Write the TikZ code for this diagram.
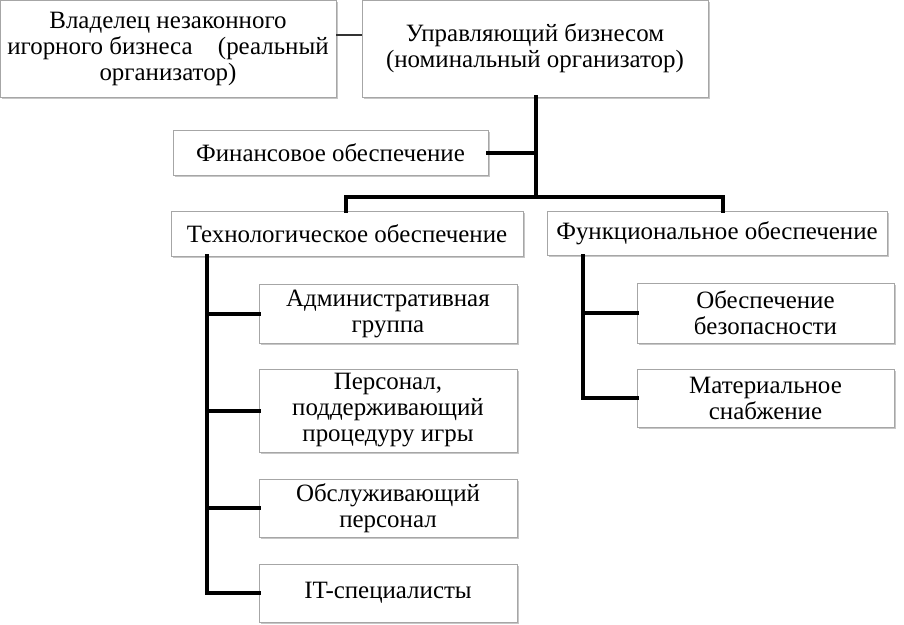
\documentclass[tikz,border=0pt]{standalone}
\usepackage{fontspec}
\setmainfont{Liberation Serif}
\usetikzlibrary{shadows}
\begin{document}
\begin{tikzpicture}[x=0.75pt,y=-0.75pt,
  box/.style 2 args={draw=black!35, line width=0.6pt, fill=white,
    drop shadow={shadow xshift=1.3pt, shadow yshift=-1.3pt, fill=black, opacity=0.22},
    minimum width=#1*0.75pt, minimum height=#2*0.75pt, inner sep=0pt,
    align=center, font=\fontsize{18.7pt}{19.5pt}\selectfont},
  thick line/.style={line width=3pt, line cap=rect},
  thin line/.style={line width=0.8pt, draw=black!80}]
\useasboundingbox (0,0) rectangle (904,625);
\node[box={336}{97}] (own) at (168,48.5) {Владелец незаконного\\\makebox[241pt][s]{игорного бизнеса\hfill(реальный}\\организатор)};
\node[box={346}{97}] (man) at (535,48.5) {Управляющий бизнесом\\(номинальный организатор)};
\node[box={315}{45}] (fin) at (330.5,152.5) {Финансовое обеспечение};
\node[box={352}{45}] (tech) at (347,233.5) {Технологическое обеспечение};
\node[box={340}{44}] (func) at (717,233.5) {Функциональное обеспечение};
\node[box={258}{59}] (adm) at (388,313.5) {Административная\\группа};
\node[box={258}{83}] (pers) at (388,410.5) {Персонал,\\поддерживающий\\процедуру игры};
\node[box={258}{58}] (obs) at (388,508) {Обслуживающий\\персонал};
\node[box={258}{58}] (it) at (388,593) {IT-специалисты};
\node[box={257}{60}] (bez) at (765.5,313) {Обеспечение\\безопасности};
\node[box={257}{58}] (mat) at (765.5,398) {Материальное\\снабжение};
\coordinate (j) at (536,197);
\coordinate (tl) at (346,197);
\coordinate (tr) at (723,197);
\coordinate (tt) at (207,0);
\coordinate (ft) at (583,0);
\draw[thin line] (own.east |- 0,35) -- (man.west |- 0,35);
\draw[thick line] (man.south -| j) -- (j);
\draw[thick line] (fin.east) -- (fin.east -| j);
\draw[thick line] (tl |- tech.north) -- (tl) -- (tr) -- (tr |- func.north);
\draw[thick line] (tt |- tech.south) -- (tt |- it.west) -- (it.west);
\draw[thick line] (tt |- adm.west) -- (adm.west);
\draw[thick line] (tt |- pers.west) -- (pers.west);
\draw[thick line] (tt |- obs.west) -- (obs.west);
\draw[thick line] (ft |- func.south) -- (ft |- mat.west) -- (mat.west);
\draw[thick line] (ft |- bez.west) -- (bez.west);
\end{tikzpicture}
\end{document}
